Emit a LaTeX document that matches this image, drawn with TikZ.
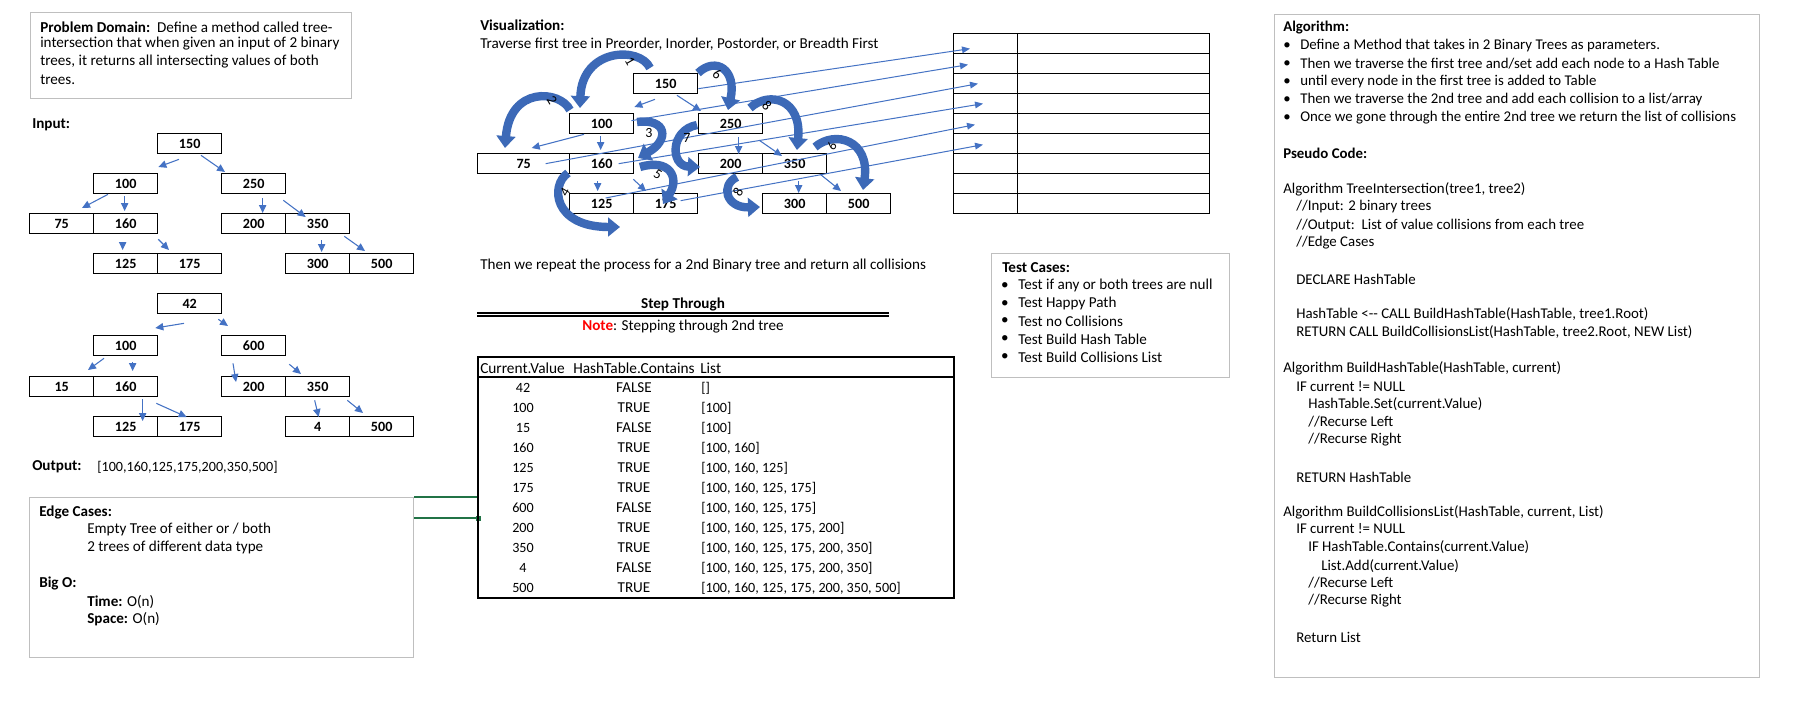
\documentclass[tikz,border=0pt]{standalone}
\usepackage{fontspec}
\setmainfont{Carlito}
\usetikzlibrary{arrows.meta,calc}
\definecolor{arrowblue}{HTML}{4472C4}
\definecolor{bigblue}{HTML}{3C69B7}
\definecolor{boxgray}{HTML}{BFBFBF}
\definecolor{selgreen}{HTML}{217346}
\newcommand{\mytxt}[4]{\node[txt] (#1) at (#2,#3) {#4};}
\newcommand{\algtxt}[4]{\node[atxt] (#1) at (#2,#3) {#4};}
\begin{document}
\begin{tikzpicture}[x=0.75pt,y=-0.75pt,
 txt/.style={anchor=west, inner sep=0pt, font=\fontsize{11.35}{13.4}\selectfont},
 ctxt/.style={txt, anchor=center},
 atxt/.style={anchor=west, inner sep=0pt, font=\fontsize{11.15}{13.4}\selectfont},
 dtxt/.style={anchor=west, inner sep=0pt, font=\fontsize{10.6}{13.4}\selectfont},
 cdtxt/.style={dtxt, anchor=center},
 tbox/.style={draw, line width=1pt, minimum width=48pt, minimum height=15pt, inner sep=0pt, anchor=north west, font=\fontsize{10.6}{13.4}\selectfont\bfseries},
 wbox/.style={tbox, minimum width=69pt},
 graybox/.style={draw=boxgray, line width=1.1pt, anchor=north west, inner sep=0pt},
 tarr/.style={draw=arrowblue, line width=0.8pt, -{Triangle[length=6pt,width=5.5pt]}},
 larr/.style={draw=arrowblue, line width=0.75pt, -{Triangle[length=6pt,width=5pt]}},
 bigarr/.style={draw=bigblue, line width=6.3pt, -{Triangle[length=9pt,width=14pt]}},
 num/.style={inner sep=0pt, font=\fontsize{10.5}{12}\selectfont},
 hcell/.style={draw, line width=1pt, minimum width=48pt, minimum height=15pt, inner sep=0pt, anchor=north west},
 vcell/.style={hcell, minimum width=144pt},
]
\fill[white] (0,0) rectangle (1814,700);
\useasboundingbox (0,0) rectangle (1814,700);

% ---------- Problem domain ----------
\node[graybox, minimum width=240.75pt, minimum height=64.5pt] (pdbox) at (30,12) {};
\mytxt{pd1}{40}{27}{\textbf{Problem Domain:}\ \ Define a method called tree-}
\mytxt{pd2}{40}{44}{intersection that when given an input of 2 binary}
\mytxt{pd3}{40}{62}{trees, it returns all intersecting values of both}
\mytxt{pd4}{40}{80}{trees.}

% ---------- Input tree 1 ----------
\mytxt{inlbl}{32}{125}{\textbf{Input:}}
\node[tbox] (t1a) at (157,133) {150};
\node[tbox] (t1b) at (93,173) {100};
\node[tbox] (t1c) at (221,173) {250};
\node[tbox] (t1d) at (29,213) {75};
\node[tbox] (t1e) at (93,213) {160};
\node[tbox] (t1f) at (221,213) {200};
\node[tbox] (t1g) at (285,213) {350};
\node[tbox] (t1h) at (93,253) {125};
\node[tbox] (t1i) at (157,253) {175};
\node[tbox] (t1j) at (285,253) {300};
\node[tbox] (t1k) at (349,253) {500};
\draw[tarr] ([shift={(22,5)}]t1a.south west) -- ([shift={(0,-6)}]t1b.north east);
\draw[tarr] ([shift={(44,1)}]t1a.south west) -- ([shift={(4,-1)}]t1c.north west);
\draw[tarr] ([shift={(15,0)}]t1b.south west) -- ([shift={(53,-5)}]t1d.north west);
\draw[tarr] ([shift={(-1,2)}]t1b.south) -- ([shift={(-1,-2)}]t1e.north);
\draw[tarr] ([shift={(9,4)}]t1c.south) -- ([shift={(9,0)}]t1f.north);
\draw[tarr] ([shift={(-3,6)}]t1c.south east) -- ([shift={(-12,4)}]t1g.north);
\draw[tarr] ([shift={(-3,8)}]t1e.south) -- ([shift={(-3,-3)}]t1h.north);
\draw[tarr] ([shift={(0,5)}]t1e.south east) -- ([shift={(12,-3)}]t1i.north west);
\draw[tarr] ([shift={(4,6)}]t1g.south) -- ([shift={(4,-1)}]t1j.north);
\draw[tarr] ([shift={(-6,2)}]t1g.south east) -- ([shift={(16,-2)}]t1k.north west);

% ---------- Input tree 2 ----------
\node[tbox] (t2a) at (157,293) {42};
\node[tbox] (t2b) at (93,335) {100};
\node[tbox] (t2c) at (221,335) {600};
\node[tbox] (t2d) at (29,376) {15};
\node[tbox] (t2e) at (93,376) {160};
\node[tbox] (t2f) at (221,376) {200};
\node[tbox] (t2g) at (285,376) {350};
\node[tbox] (t2h) at (93,416) {125};
\node[tbox] (t2i) at (157,416) {175};
\node[tbox] (t2j) at (285,416) {4};
\node[tbox] (t2k) at (349,416) {500};
\draw[tarr] ([shift={(27,9)}]t2a.south west) -- ([shift={(-3,-7)}]t2b.north east);
\draw[tarr] ([shift={(-4,5)}]t2a.south east) -- ([shift={(7,-9)}]t2c.north west);
\draw[tarr] ([shift={(11,2)}]t2b.south west) -- ([shift={(59,-6)}]t2d.north west);
\draw[tarr] ([shift={(7,6)}]t2b.south) -- ([shift={(7,-5)}]t2e.north);
\draw[tarr] ([shift={(12,7)}]t2c.south west) -- ([shift={(15,6)}]t2f.north west);
\draw[tarr] ([shift={(3,8)}]t2c.south east) -- ([shift={(16,-2)}]t2g.north west);
\draw[tarr] ([shift={(17,2)}]t2e.south) -- ([shift={(17,5)}]t2h.north);
\draw[tarr] ([shift={(-2,6)}]t2e.south east) -- ([shift={(-3,1)}]t2i.north);
\draw[tarr] ([shift={(-3,3)}]t2g.south) -- ([shift={(1,1)}]t2j.north);
\draw[tarr] ([shift={(-3,3)}]t2g.south east) -- ([shift={(14,-3)}]t2k.north west);

% ---------- Output ----------
\mytxt{outlbl}{32}{467}{\textbf{Output:}}
\node[dtxt] (outval) at (97,467) {[100,160,125,175,200,350,500]};

% ---------- Edge cases ----------
\node[graybox, minimum width=288pt, minimum height=120pt] (edgebox) at (29,497) {};
\mytxt{ec1}{39}{512}{\textbf{Edge Cases:}}
\mytxt{ec2}{87}{529}{Empty Tree of either or / both}
\mytxt{ec3}{87}{547}{2 trees of different data type}
\mytxt{ec4}{39}{583}{\textbf{Big O:}}
\mytxt{ec5}{87}{602}{\textbf{Time:} O(n)}
\mytxt{ec6}{87}{619}{\textbf{Space:} O(n)}
\coordinate (gsq) at (478,518);
\draw[selgreen, line width=1.3pt] (edgebox.north east) -- (gsq |- edgebox.north east) -- (gsq) -- (edgebox.east |- gsq);
\fill[selgreen] (475.5,515.5) rectangle (480.5,520.5);

% ---------- Visualization ----------
\mytxt{vz1}{480}{25}{\textbf{Visualization:}}
\mytxt{vz2}{480}{44}{Traverse first tree in Preorder, Inorder, Postorder, or Breadth First}
\node[tbox] (v150) at (633,73) {150};
\node[tbox] (v100) at (569,113) {100};
\node[tbox] (v250) at (698,113) {250};
\node[wbox] (v75) at (477,153) {75};
\node[tbox] (v160) at (569,153) {160};
\node[tbox] (v200) at (698,153) {200};
\node[tbox] (v350) at (762,153) {350};
\node[tbox] (v125) at (569,193) {125};
\node[tbox] (v175) at (633,193) {175};
\node[tbox] (v300) at (762,193) {300};
\node[tbox] (v500) at (826,193) {500};
\draw[tarr] ([shift={(22,5)}]v150.south west) -- ([shift={(0,-6)}]v100.north east);
\draw[tarr] ([shift={(44,1)}]v150.south west) -- ([shift={(3,-2)}]v250.north west);
\draw[tarr] ([shift={(15,0)}]v100.south west) -- ([shift={(8,-5)}]v75.north);
\draw[tarr] ([shift={(-1,2)}]v100.south) -- ([shift={(-1,-3)}]v160.north);
\draw[tarr] ([shift={(8,3)}]v250.south) -- ([shift={(8,1)}]v200.north);
\draw[tarr] ([shift={(-4,6)}]v250.south east) -- ([shift={(20,3)}]v350.north west);
\draw[tarr] ([shift={(-4,7)}]v160.south) -- ([shift={(-4,-2)}]v125.north);
\draw[tarr] ([shift={(-1,5)}]v160.south east) -- ([shift={(13,-2)}]v175.north west);
\draw[tarr] ([shift={(4,7)}]v350.south) -- ([shift={(4,0)}]v300.north);
\draw[tarr] ([shift={(-7,0)}]v350.south east) -- ([shift={(15,-2)}]v500.north west);

% hash table
\foreach \i in {1,...,9} {
  \node[hcell] (hk\i) at (953,{33+20*(\i-1)}) {};
  \node[vcell] (hv\i) at (1017,{33+20*(\i-1)}) {};
}
\draw[larr] ([shift={(0,5)}]v150.east) -- ([shift={(17,5)}]hk1.west);
\draw[larr] ([shift={(-3,-3)}]v100.east) -- ([shift={(15,1)}]hk2.west);
\draw[larr] ([shift={(22,0)}]v75.center) -- ([shift={(25,0)}]hk3.west);
\draw[larr] ([shift={(17,0)}]v160.center) -- ([shift={(30,0)}]hk4.west);
\draw[larr] ([shift={(4,5)}]v125.north) -- ([shift={(22,1)}]hk5.west);
\draw[larr] ([shift={(15,-3)}]v175.center) -- ([shift={(30,1)}]hk6.west);

% big curved arrows
\draw[bigarr] (650,68) .. controls (640,46) and (582,48) .. (580,108);
\draw[bigarr] (570,110) .. controls (560,90) and (510,86) .. (505,148);
\draw[bigarr] (637,122) .. controls (667,118) and (670,140) .. (638,158);
\draw[bigarr] (568,173) .. controls (550,185) and (553,227) .. (620,227);
\draw[bigarr] (640,167) .. controls (670,158) and (680,178) .. (663,204);
\draw[bigarr] (698,73) .. controls (716,56) and (737,70) .. (728,110);
\draw[bigarr] (697,125) .. controls (670,130) and (670,166) .. (700,167);
\draw[bigarr] (750,108) .. controls (770,90) and (802,100) .. (797,150);
\draw[bigarr] (815,147) .. controls (835,130) and (870,140) .. (863,190);
\draw[bigarr] (737,177) .. controls (720,185) and (726,208) .. (760,207);
\node[num, rotate=-60] (n1) at (630,61) {1};
\node[num, rotate=-60] (n2) at (552,100) {2};
\node[num] (n3) at (649,133) {3};
\node[num, rotate=60] (n4) at (565,192) {4};
\node[num, rotate=-30] (n5) at (658,174) {5};
\node[num, rotate=-30] (n6) at (717,74) {6};
\node[num] (n7) at (687,138) {7};
\node[num, rotate=-45] (n8) at (767,106) {8};
\node[num, rotate=-120] (n9) at (832,146) {9};
\node[num, rotate=60] (n10) at (738,192) {8};

% ---------- Step through ----------
\mytxt{rp}{480}{265}{Then we repeat the process for a 2nd Binary tree and return all collisions}
\node[ctxt] (sthd) at (683,304) {\textbf{Step Through}};
\draw[line width=0.8pt] (477,313) -- (889,313);
\draw[line width=0.8pt] (477,316) -- (889,316);
\node[ctxt] (note) at (683,327) {\textcolor{red}{\textbf{Note}}: Stepping through 2nd tree};
\node[draw, line width=1.5pt, minimum width=357pt, minimum height=180.75pt, inner sep=0pt, anchor=north west] (stbl) at (477,356) {};
\draw[line width=0.8pt] ([shift={(0,21)}]stbl.north west) -- ([shift={(0,21)}]stbl.north east);
\node[txt, font=\fontsize{11.5}{13.4}\selectfont] (sh1) at (480,368) {Current.Value};
\node[txt, font=\fontsize{11.5}{13.4}\selectfont] (sh2) at (573,368) {HashTable.Contains};
\node[txt, font=\fontsize{11.5}{13.4}\selectfont] (sh3) at (700,368) {List};
\foreach \a/\b/\c [count=\i] in {42/FALSE/{[]}, 100/TRUE/{[100]}, 15/FALSE/{[100]}, 160/TRUE/{[100, 160]}, 125/TRUE/{[100, 160, 125]}, 175/TRUE/{[100, 160, 125, 175]}, 600/FALSE/{[100, 160, 125, 175]}, 200/TRUE/{[100, 160, 125, 175, 200]}, 350/TRUE/{[100, 160, 125, 175, 200, 350]}, 4/FALSE/{[100, 160, 125, 175, 200, 350]}, 500/TRUE/{[100, 160, 125, 175, 200, 350, 500]}} {
  \node[cdtxt] (sa\i) at (523,{368+20*\i}) {\a};
  \node[ctxt] (sb\i) at (634,{368+20*\i}) {\b};
  \node[dtxt] (sc\i) at (701,{368+20*\i}) {\c};
}

% ---------- Test cases ----------
\node[graybox, minimum width=178.5pt, minimum height=93pt] (tcbox) at (991,253) {};
\mytxt{tc0}{1002}{268}{\textbf{Test Cases:}}
\foreach \t [count=\i] in {Test if any or both trees are null, Test Happy Path, Test no Collisions, Test Build Hash Table, Test Build Collisions List} {
  \node[ctxt] (tcb\i) at (1005,{268+17.8*\i}) {•};
  \node[txt] (tct\i) at (1018,{268+17.8*\i}) {\t};
}

% ---------- Algorithm ----------
\node[graybox, minimum width=363.75pt, minimum height=497.25pt] (albox) at (1274,14) {};
\algtxt{al0}{1283}{28}{\textbf{Algorithm:}}
\foreach \t [count=\i] in {Define a Method that takes in 2 Binary Trees as parameters., Then we traverse the first tree and/set add each node to a Hash Table, until every node in the first tree is added to Table, Then we traverse the 2nd tree and add each collision to a list/array, Once we gone through the entire 2nd tree we return the list of collisions} {
  \node[atxt, anchor=center] (alb\i) at (1287,{28+18*\i}) {•};
  \node[atxt] (alt\i) at (1300,{28+18*\i}) {\t};
}
\algtxt{ps0}{1283}{153}{\textbf{Pseudo Code:}}
\algtxt{ps1}{1283}{189}{Algorithm TreeIntersection(tree1, tree2)}
\algtxt{ps2}{1296}{207}{//Input: 2 binary trees}
\algtxt{ps3}{1296}{226}{//Output:\ \ List of value collisions from each tree}
\algtxt{ps4}{1296}{243}{//Edge Cases}
\algtxt{ps5}{1296}{279}{DECLARE HashTable}
\algtxt{ps6}{1296}{314}{HashTable <-{}- CALL BuildHashTable(HashTable, tree1.Root)}
\algtxt{ps7}{1296}{332}{RETURN CALL BuildCollisionsList(HashTable, tree2.Root, NEW List)}
\algtxt{ps8}{1283}{368}{Algorithm BuildHashTable(HashTable, current)}
\algtxt{ps9}{1296}{387}{IF current != NULL}
\algtxt{ps10}{1308}{404}{HashTable.Set(current.Value)}
\algtxt{ps11}{1308}{422}{//Recurse Left}
\algtxt{ps12}{1308}{440}{//Recurse Right}
\algtxt{ps13}{1296}{477}{RETURN HashTable}
\algtxt{ps14}{1283}{512}{Algorithm BuildCollisionsList(HashTable, current, List)}
\algtxt{ps15}{1296}{529}{IF current != NULL}
\algtxt{ps16}{1308}{547}{IF HashTable.Contains(current.Value)}
\algtxt{ps17}{1321}{566}{List.Add(current.Value)}
\algtxt{ps18}{1308}{583}{//Recurse Left}
\algtxt{ps19}{1308}{601}{//Recurse Right}
\algtxt{ps20}{1296}{637}{Return List}
\end{tikzpicture}
\end{document}
